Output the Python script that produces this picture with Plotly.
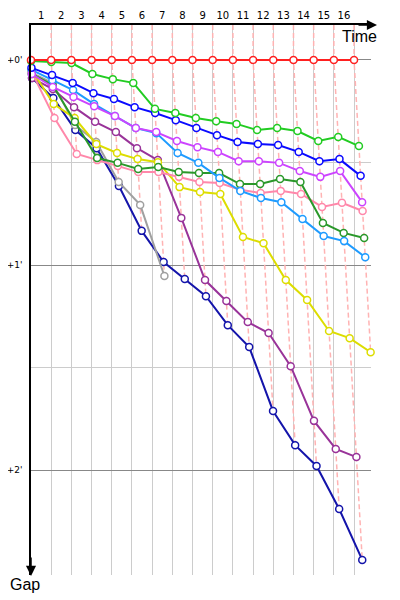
import plotly.graph_objects as go

LAP_SEC = 104  # rough leader lap time in seconds, sets the time scale

lap_labels = [str(i) for i in range(1, 17)]
gap_ticks = [0, 60, 120]
gap_tick_text = ["+0'", "+1'", "+2'"]

# gap to the leader (seconds) at each lap, starting from lap 0
red = [0, 0, 0, 0, 0, 0, 0, 0, 0, 0, 0, 0, 0, 0, 0, 0, 0]
green = [0.3, 0.6, 0.9, 4.1, 5.6, 6.7, 14.3, 15.5, 17.0, 17.9, 18.7, 20.5, 19.9, 20.8, 23.7, 22.5, 25.2]
blue = [2.3, 4.4, 6.7, 9.7, 11.4, 13.8, 15.5, 17.6, 19.9, 22.0, 24.0, 24.6, 24.9, 26.9, 29.6, 29.0, 33.9]
magenta = [4.1, 7.9, 10.8, 13.5, 16.4, 19.9, 21.1, 23.7, 25.5, 26.9, 29.6, 29.6, 30.1, 32.5, 34.2, 32.5, 41.6]
light_blue = [2.9, 5.9, 8.8, 12.9, 16.4, 19.9, 21.4, 27.2, 30.1, 34.5, 38.3, 40.4, 41.6, 46.5, 51.5, 53.0, 57.7]
dark_green = [4.1, 7.3, 18.1, 28.7, 30.1, 31.9, 31.3, 32.8, 33.1, 33.1, 36.3, 36.3, 34.8, 35.7, 47.7, 50.6, 52.1]
pink = [3.5, 17.0, 27.5, 29.3, 31.0, 32.8, 32.8, 34.2, 35.7, 36.0, 38.0, 38.9, 38.3, 39.2, 43.0, 41.8, 44.2]
yellow = [2.9, 12.9, 17.0, 24.6, 27.2, 29.0, 29.9, 37.2, 38.6, 39.2, 51.8, 53.6, 64.4, 70.2, 79.3, 81.4, 85.5]
purple = [5.3, 8.5, 13.8, 18.1, 21.1, 25.8, 29.3, 46.2, 64.4, 70.5, 76.7, 79.9, 89.6, 105.6, 113.8, 116.2]
gray = [3.8, 6.7, 19.0, 24.0, 35.7, 42.4, 63.2]
navy = [5.3, 11.1, 20.5, 25.8, 36.9, 50.0, 59.1, 64.1, 69.1, 77.6, 84.0, 102.7, 112.7, 118.8, 131.4, 146.3]

series = [
    (navy, "#1414aa"),
    (gray, "#a0a0a0"),
    (purple, "#993399"),
    (yellow, "#dddd00"),
    (pink, "#ff88aa"),
    (dark_green, "#2a982a"),
    (light_blue, "#1e9bff"),
    (magenta, "#cc44ff"),
    (blue, "#0a0aff"),
    (green, "#22cc22"),
    (red, "#ff2020"),
]

Y_TOP = -10.24
Y_BOTTOM = 150.7
X_MAX = 16.84 * LAP_SEC

fig = go.Figure()

# dashed "same lap" lines, from the top down to the last car on that lap
for k in range(1, 17):
    gmax = max(s[k] for s, _ in series if len(s) > k)
    t0 = k * LAP_SEC
    fig.add_trace(go.Scatter(
        x=[t0, t0, t0 + gmax], y=[Y_TOP, 0, gmax],
        mode="lines", line=dict(color="#ffb3b3", width=1.5, dash="5px,3px"),
        hoverinfo="skip", cliponaxis=False))

for gaps, color in series:
    fig.add_trace(go.Scatter(
        x=[k * LAP_SEC + g for k, g in enumerate(gaps)], y=gaps,
        mode="lines+markers",
        line=dict(color=color, width=2),
        marker=dict(symbol="circle", size=7, color="white",
                    line=dict(color=color, width=1.5)),
        cliponaxis=False))

# the page body adds an 8px offset, so margins are trimmed to compensate
fig.update_layout(
    width=400, height=600,
    margin=dict(l=23, r=37, t=17, b=33),
    paper_bgcolor="white", plot_bgcolor="white",
    showlegend=False,
    font=dict(family="DejaVu Sans", size=10, color="black"),
    xaxis=dict(
        range=[0, X_MAX], side="top", automargin=False,
        tickvals=[(k - 0.5) * LAP_SEC for k in range(1, 17)], ticktext=lap_labels,
        ticks="", showgrid=False, zeroline=False,
        showline=True, linecolor="black", linewidth=1.5,
        minor=dict(tickvals=[k * LAP_SEC for k in range(1, 17)], showgrid=True,
                   gridcolor="#cccccc", gridwidth=1, ticks=""),
        tickfont=dict(size=10),
    ),
    yaxis=dict(
        range=[Y_BOTTOM, Y_TOP], automargin=False,
        tickvals=gap_ticks, ticktext=gap_tick_text,
        ticks="", showgrid=True, gridcolor="#888888", gridwidth=1, zeroline=False,
        showline=True, linecolor="black", linewidth=1.5,
        minor=dict(tickvals=[30, 90], showgrid=True, gridcolor="#cccccc", ticks=""),
        tickfont=dict(size=9), ticklabelstandoff=5,
    ),
)

# axis arrows and titles
fig.add_annotation(xref="paper", yref="paper", x=346 / 340, y=1, ax=-20, ay=0,
                   text="", showarrow=True, arrowhead=2, arrowsize=1.35,
                   arrowwidth=1.5, arrowcolor="black", standoff=0)
fig.add_annotation(xref="paper", yref="paper", x=0, y=-1 / 550, ax=0, ay=-20,
                   text="", showarrow=True, arrowhead=2, arrowsize=1.35,
                   arrowwidth=1.5, arrowcolor="black", standoff=0)
fig.add_annotation(xref="paper", yref="paper", x=328 / 340, y=1 - 11 / 550,
                   text="Time", showarrow=False, xanchor="center", yanchor="middle",
                   font=dict(family="Liberation Sans", size=16, color="black"))
fig.add_annotation(xref="paper", yref="paper", x=-6 / 340, y=-10 / 550,
                   text="Gap", showarrow=False, xanchor="center", yanchor="middle",
                   font=dict(family="Liberation Sans", size=16, color="black"))

fig.write_html("out.html")
